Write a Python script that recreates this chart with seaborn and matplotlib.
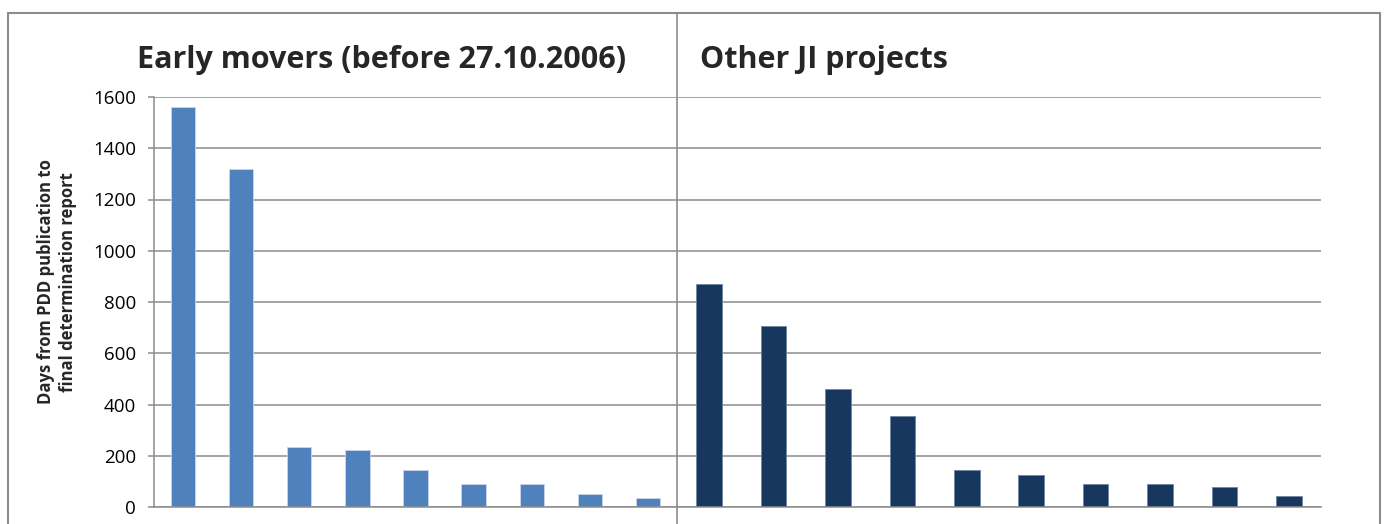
import matplotlib
matplotlib.use('Agg')
import matplotlib.pyplot as plt
import seaborn as sns
from matplotlib.lines import Line2D
from matplotlib.patches import Rectangle

# Values.
early_titles = 'Early movers (before 27.10.2006)'
other_titles = 'Other JI projects'
early_projects = ['E1', 'E2', 'E3', 'E4', 'E5', 'E6', 'E7', 'E8', 'E9']
early_days = [1560, 1320, 235, 223, 143, 91, 91, 50, 36]
other_projects = ['O1', 'O2', 'O3', 'O4', 'O5', 'O6', 'O7', 'O8', 'O9', 'O10']
other_days = [870, 705, 460, 355, 143, 126, 91, 91, 78, 43]
y_ticks = [0, 200, 400, 600, 800, 1000, 1200, 1400, 1600]
y_label = 'Days from PDD publication to\nfinal determination report'

sns.set_style('white')
plt.rcParams['font.family'] = ['Open Sans', 'DejaVu Sans']

W, H = 1385, 524
fig = plt.figure(figsize=(W / 100, H / 100), dpi=100)

grid_col = '#8c8c8c'
bottom = 1 - 507 / H
height = (507 - 97) / H
ax1 = fig.add_axes([154 / W, bottom, (677 - 154) / W, height])
ax2 = fig.add_axes([677 / W, bottom, (1321 - 677) / W, height])

sns.barplot(x=early_projects, y=early_days, color='#4F81BD', saturation=1,
            width=0.42, edgecolor='#c9d6ea', linewidth=0.6, ax=ax1)
sns.barplot(x=other_projects, y=other_days, color='#17375E', saturation=1,
            width=0.40, edgecolor='#6f87a6', linewidth=0.6, ax=ax2)

for ax in (ax1, ax2):
    ax.set_ylim(0, 1600)
    ax.set_yticks(y_ticks)
    ax.set_xticks([])
    ax.set_xlabel('')
    ax.set_ylabel('')
    ax.set_axisbelow(True)
    ax.yaxis.grid(True, color=grid_col, linewidth=1.1)
    for s in ('top', 'right', 'left'):
        ax.spines[s].set_visible(False)
    ax.spines['bottom'].set_color(grid_col)
    ax.spines['bottom'].set_linewidth(1.1)

ax1.set_xlim(-0.5, len(early_projects) - 0.5)
ax2.set_xlim(-0.5, len(other_projects) - 0.5)

ax1.spines['left'].set_visible(True)
ax1.spines['left'].set_color(grid_col)
ax1.spines['left'].set_linewidth(1.1)
ax1.tick_params(axis='y', length=4, width=1.1, color=grid_col, pad=9,
                labelsize=13.5, labelcolor='black', left=True)
ax2.tick_params(axis='y', left=False, labelleft=False)

# Chart titles and y label as figure text
fig.text(137 / W, 1 - 60 / H, early_titles, fontsize=22, fontweight='bold',
         ha='left', va='center')
fig.text(700 / W, 1 - 60 / H, other_titles, fontsize=22, fontweight='bold',
         ha='left', va='center')
fig.text(57 / W, 1 - 282 / H, y_label, rotation=90, fontsize=12,
         fontweight='bold', ha='center', va='center', multialignment='center',
         linespacing=1.3)

# Outer frame and divider between the two panels
fig.patches.append(Rectangle((8 / W, -0.1), (1380 - 8) / W, 1.1 - 13 / H,
                             transform=fig.transFigure, fill=False,
                             edgecolor='#8c8c8c', linewidth=1.5))
fig.lines.append(Line2D([677 / W, 677 / W], [0, 1 - 13 / H],
                        transform=fig.transFigure, color='#8c8c8c',
                        linewidth=1.2))

fig.savefig('out.png', dpi=100, facecolor='white')
